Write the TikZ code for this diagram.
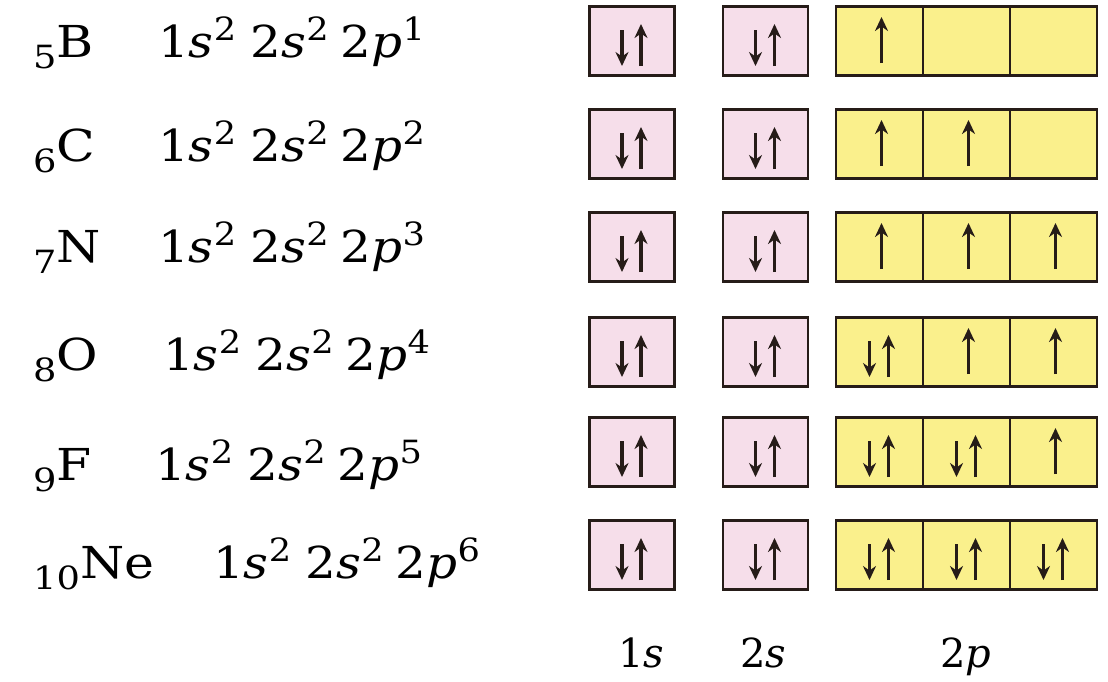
\documentclass[tikz,border=0pt]{standalone}
\usepackage{fontspec}
\setmainfont{DejaVu Serif}
\usepackage{graphicx}
\usetikzlibrary{arrows.meta}
\definecolor{pinkfill}{RGB}{246,222,234}
\definecolor{yelfill}{RGB}{250,240,140}
\definecolor{edgecol}{RGB}{38,28,24}
\newcommand\bigtxt{\fontsize{44}{48}\selectfont}
\newcommand\smalltxt{\fontsize{32}{34}\selectfont}
\newcommand\elem[2]{\scalebox{1.15}[1]{\bigtxt\raisebox{-0.25em}{\smalltxt #1}#2}}
\newcommand\supx[1]{\raisebox{0.38em}{\smalltxt #1}}
\newcommand\cfg[1]{\scalebox{1.1}[1]{\bigtxt 1\textit{s}\supx{2}\hspace{0.3em}2\textit{s}\supx{2}\hspace{0.25em}2\textit{p}\supx{#1}}}
\newcommand\pairspin[1]{%
  \draw[spin] ([shift={(-10,-11)}]#1.center) -- ([shift={(-10,25)}]#1.center);
  \draw[spin] ([shift={(9,25)}]#1.center) -- ([shift={(9,-17)}]#1.center);}
\newcommand\upspin[1]{%
  \draw[spin] ([shift={(2,22)}]#1.center) -- ([shift={(2,-24)}]#1.center);}
\begin{document}
\begin{tikzpicture}[x=1pt,y=-1pt,
  orb/.style={draw=edgecol,line width=2.8pt,inner sep=0pt,outer sep=0pt,
              minimum height=69pt},
  sorb/.style={orb,fill=pinkfill,minimum width=85pt},
  porb/.style={orb,fill=yelfill,minimum width=87pt},
  spin/.style={draw=edgecol,line width=3.6pt,-{Stealth[length=14pt,width=13pt]}},
  txt/.style={anchor=base west,inner sep=0pt,text=black},
  lbl/.style={anchor=base,inner sep=0pt,text=black,font=\fontsize{40}{44}\selectfont}]
\useasboundingbox (0,0) rectangle (1108,681);
\fill[white] (0,0) rectangle (1108,681);
% rows: index / centre y / baseline / element / atomic number / config x / exponent
\foreach \r/\cy/\bl/\el/\sub/\cx/\ex in {1/41/57/B/5/158/1, 2/144/161/C/6/158/2,
    3/247/262/N/7/158/3, 4/352/370/O/8/163/4, 5/452/480/F/9/155/5,
    6/555/578/Ne/10/213/6}{
  \node[txt] (el\r) at (33,\bl) {\elem{\sub}{\el}};
  \node[txt] (cf\r) at (\cx,\bl) {\cfg{\ex}};
  \node[sorb] (a\r) at (632,\cy) {};
  \node[sorb] (b\r) at (765.5,\cy) {};
  \node[porb] (p\r x) at (879.5,\cy) {};
  \node[porb] (p\r y) at (966.5,\cy) {};
  \node[porb] (p\r z) at (1053.5,\cy) {};
  \pairspin{a\r}
  \pairspin{b\r}
}
% 2p electrons
\upspin{p1x}
\upspin{p2x} \upspin{p2y}
\upspin{p3x} \upspin{p3y} \upspin{p3z}
\pairspin{p4x} \upspin{p4y} \upspin{p4z}
\pairspin{p5x} \pairspin{p5y} \upspin{p5z}
\pairspin{p6x} \pairspin{p6y} \pairspin{p6z}
% column labels
\node[lbl] (l1s) at (641,667) {1\textit{s}};
\node[lbl] (l2s) at (763,667) {2\textit{s}};
\node[lbl] (l2p) at (966,667) {2\textit{p}};
\end{tikzpicture}
\end{document}
